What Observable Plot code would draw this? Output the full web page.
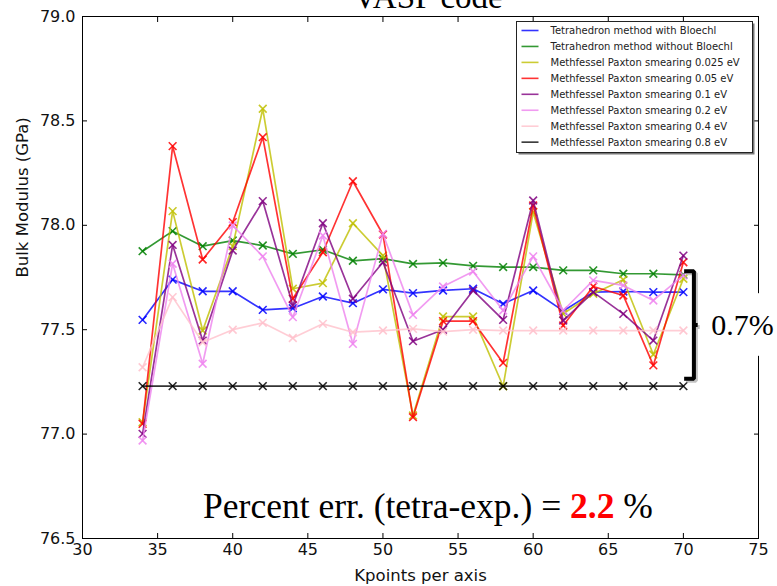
<!DOCTYPE html>
<html>
<head>
<meta charset="utf-8">
<script src="https://cdn.jsdelivr.net/npm/d3@7"></script>
<script src="https://cdn.jsdelivr.net/npm/@observablehq/plot@0.6"></script>
<style>
  html, body { margin: 0; padding: 0; background: #fff; }
  #chart svg { display: block; }
</style>
</head>
<body>
<div id="chart"></div>
<script>
// k-point mesh size along each axis
const kpoints = [34, 36, 38, 40, 42, 44, 46, 48, 50, 52, 54, 56, 58, 60, 62, 64, 66, 68, 70];

// Bulk modulus (GPa) for each integration scheme
const tetraBloechl   = [77.547, 77.740, 77.684, 77.684, 77.595, 77.603, 77.659, 77.627, 77.693, 77.675, 77.688, 77.696, 77.624, 77.688, 77.590, 77.680, 77.683, 77.680, 77.680];
const tetraNoBloechl = [77.876, 77.972, 77.900, 77.927, 77.903, 77.863, 77.883, 77.830, 77.840, 77.815, 77.820, 77.806, 77.800, 77.800, 77.784, 77.784, 77.768, 77.768, 77.763];
const mp0025 = [77.057, 78.068, 77.496, 77.900, 78.558, 77.696, 77.723, 78.010, 77.855, 77.089, 77.563, 77.563, 77.229, 78.063, 77.576, 77.672, 77.739, 77.381, 77.744];
const mp005  = [77.049, 78.379, 77.836, 78.015, 78.422, 77.648, 77.871, 78.211, 77.956, 77.081, 77.541, 77.541, 77.341, 78.095, 77.520, 77.707, 77.664, 77.329, 77.823];
const mp01   = [77.001, 77.906, 77.448, 77.879, 78.116, 77.616, 78.010, 77.648, 77.823, 77.445, 77.500, 77.688, 77.547, 78.119, 77.544, 77.680, 77.576, 77.448, 77.855];
const mp02   = [76.969, 77.816, 77.337, 77.999, 77.851, 77.560, 77.951, 77.432, 77.959, 77.571, 77.707, 77.779, 77.592, 77.851, 77.592, 77.736, 77.712, 77.640, 77.760];
const mp04   = [77.320, 77.656, 77.440, 77.500, 77.533, 77.460, 77.528, 77.488, 77.496, 77.504, 77.491, 77.500, 77.496, 77.496, 77.496, 77.496, 77.496, 77.496, 77.496];
const mp08   = [77.230, 77.230, 77.230, 77.230, 77.230, 77.230, 77.230, 77.230, 77.230, 77.230, 77.230, 77.230, 77.230, 77.230, 77.230, 77.230, 77.230, 77.230, 77.230];

const seriesNames = [
  "Tetrahedron method with Bloechl",
  "Tetrahedron method without Bloechl",
  "Methfessel Paxton smearing 0.025 eV",
  "Methfessel Paxton smearing 0.05 eV",
  "Methfessel Paxton smearing 0.1 eV",
  "Methfessel Paxton smearing 0.2 eV",
  "Methfessel Paxton smearing 0.4 eV",
  "Methfessel Paxton smearing 0.8 eV"
];
const seriesColors = ["#0000ff", "#008000", "#bfbf00", "#ff0000", "#800080", "#ee82ee", "#ffc0cb", "#000000"];
const seriesValues = [tetraBloechl, tetraNoBloechl, mp0025, mp005, mp01, mp02, mp04, mp08];

// Axis ticks
const xTicks = [30, 35, 40, 45, 50, 55, 60, 65, 70, 75];
const yTicks = [76.5, 77.0, 77.5, 78.0, 78.5, 79.0];

// Annotations
const titleText = "VASP code";
const xLabel = "Kpoints per axis";
const yLabel = "Bulk Modulus (GPa)";
const spreadTop = 77.78;
const spreadBottom = 77.265;
const spreadLabel = "0.7%";
const errPrefix = "Percent err. (tetra-exp.) = ";
const errValue = "2.2";
const errSuffix = " %";

const rows = seriesValues.map((vals, s) =>
  vals.map((v, i) => ({k: kpoints[i], v, s}))
);

const lastK = kpoints[kpoints.length - 1];
const spreadMid = (spreadTop + spreadBottom) / 2;
const bracket = [
  {x: lastK + 0.05, y: spreadTop},
  {x: lastK + 0.7, y: spreadTop},
  {x: lastK + 0.7, y: spreadMid},
  {x: lastK + 0.95, y: spreadMid},
  {x: lastK + 0.7, y: spreadMid},
  {x: lastK + 0.7, y: spreadBottom},
  {x: lastK + 0.05, y: spreadBottom}
];

const serif = "'Liberation Serif', 'Times New Roman', serif";
const sans = "'DejaVu Sans', sans-serif";

const seriesMarks = rows.flatMap((data, s) => [
  Plot.line(data, {x: "k", y: "v", stroke: seriesColors[s], strokeWidth: 1.7, strokeOpacity: 0.8}),
  Plot.dot(data, {x: "k", y: "v", symbol: "times", r: 3.6, stroke: seriesColors[s], strokeWidth: 1.6, strokeOpacity: 0.85})
]);

const plot = Plot.plot({
  width: 777,
  height: 586,
  marginLeft: 82,
  marginRight: 19,
  marginTop: 16,
  marginBottom: 48,
  style: {fontFamily: sans, background: "white", overflow: "visible"},
  x: {domain: [30, 75]},
  y: {domain: [76.5, 79.0]},
  marks: [
    // tick labels
    Plot.axisX({ticks: xTicks, tickSize: 0, tickPadding: 5, fontSize: 16, label: null, fill: "#111"}),
    Plot.axisY({ticks: yTicks, tickSize: 0, tickPadding: 7, fontSize: 16, label: null, tickFormat: d3.format(".1f"), fill: "#111"}),
    // inward tick marks on all four sides
    Plot.axisX({ticks: xTicks, anchor: "bottom", tickSize: 5, dy: -5, text: null, label: null}),
    Plot.axisX({ticks: xTicks, anchor: "top", tickSize: 5, dy: 5, text: null, label: null}),
    Plot.axisY({ticks: yTicks, anchor: "left", tickSize: 5, dx: 5, text: null, label: null}),
    Plot.axisY({ticks: yTicks, anchor: "right", tickSize: 5, dx: -5, text: null, label: null}),
    // axis titles
    Plot.text([xLabel], {frameAnchor: "bottom", dy: 42, fontSize: 16.5, fill: "#111"}),
    Plot.text([yLabel], {frameAnchor: "left", dx: -60, rotate: -90, fontSize: 16.5, fill: "#111"}),
    // series
    ...seriesMarks,
    Plot.frame({stroke: "#000", strokeWidth: 1}),
    // spread bracket with a soft shadow
    Plot.line(bracket, {x: "x", y: "y", stroke: "#888", strokeOpacity: 0.5, strokeWidth: 4, dx: 2, dy: 2, strokeLinejoin: "miter", strokeLinecap: "butt"}),
    Plot.line(bracket, {x: "x", y: "y", stroke: "#000", strokeWidth: 4, strokeLinejoin: "miter", strokeLinecap: "butt"}),
    Plot.rect([spreadLabel], {x1: lastK + 1.8, x2: 76.5, y1: spreadMid - 0.15, y2: spreadMid + 0.15, fill: "white"}),
    Plot.text([spreadLabel], {x: lastK + 1.85, y: spreadMid, textAnchor: "start", fontSize: 30, fontFamily: serif, fill: "#000"}),
    // title (running off the top edge) and error note
    Plot.text([titleText], {x: 53, frameAnchor: "top", dy: -9, lineAnchor: "bottom", fontSize: 33, fontFamily: serif, fill: "#000"}),
    Plot.text([errPrefix + errValue + errSuffix], {x: 53, y: 76.6, lineAnchor: "bottom", fontSize: 35.5, fontFamily: serif, fill: "#000"})
  ]
});

document.getElementById("chart").append(plot);

// Colour the error value in the note
const svg = d3.select(plot);
svg.selectAll("text").filter(function () { return this.textContent === errPrefix + errValue + errSuffix; })
  .each(function () {
    const t = d3.select(this);
    t.text(null);
    t.append("tspan").text(errPrefix);
    t.append("tspan").attr("fill", "#ff0000").attr("font-weight", "bold").text(errValue);
    t.append("tspan").text(errSuffix);
  });

// In-frame legend
const lg = svg.append("g").attr("font-family", sans).attr("font-size", 10).attr("text-anchor", "start");
const lgX = 516.5, lgY = 21.5, lgW = 236, lgH = 131, rowH = 15.95;
lg.append("rect").attr("x", lgX + 2).attr("y", lgY + 2).attr("width", lgW).attr("height", lgH).attr("fill", "#777");
lg.append("rect").attr("x", lgX).attr("y", lgY).attr("width", lgW).attr("height", lgH).attr("fill", "white").attr("stroke", "#222").attr("stroke-width", 1);
seriesNames.forEach((name, i) => {
  const cy = lgY + 9 + i * rowH;
  lg.append("line").attr("x1", lgX + 5).attr("x2", lgX + 22).attr("y1", cy).attr("y2", cy)
    .attr("stroke", seriesColors[i]).attr("stroke-width", 1.6).attr("stroke-opacity", 0.8);
  lg.append("text").attr("x", lgX + 34).attr("y", cy).attr("dy", "0.35em").attr("fill", "#222").text(name);
});
</script>
</body>
</html>
